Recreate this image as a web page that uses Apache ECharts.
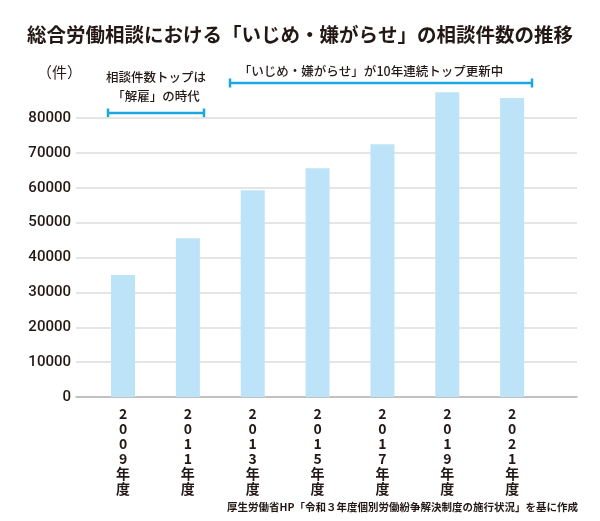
<!DOCTYPE html>
<html>
<head>
<meta charset="utf-8">
<script src="https://cdn.jsdelivr.net/npm/echarts@6/dist/echarts.min.js"></script>
<style>
  html, body { margin: 0; padding: 0; background: #fff; }
  #chart { width: 600px; height: 521px; }
</style>
</head>
<body>
<div id="chart"></div>
<script>
// 年度と相談件数
const years = [2009, 2011, 2013, 2015, 2017, 2019, 2021];
const counts = [35000, 45500, 59300, 65600, 72500, 87400, 85700];
const yTicks = [0, 10000, 20000, 30000, 40000, 50000, 60000, 70000, 80000];

const titleText = '総合労働相談における「いじめ・嫌がらせ」の相談件数の推移';
const sourceText = '厚生労働省HP「令和３年度個別労働紛争解決制度の施行状況」を基に作成';
const noteLeft = ['相談件数トップは', '「解雇」の時代'];
const noteRight = '「いじめ・嫌がらせ」が10年連続トップ更新中';

const ink = '#231815';
const cyan = '#1ba8e0';
const jp = '"Noto Sans CJK JP", "Noto Sans", sans-serif';

function bracket(x1, x2, y) {
    // 横線＋両端の縦線
    return [
        {type: 'line', shape: {x1: x1, y1: y, x2: x2, y2: y}, style: {stroke: cyan, lineWidth: 2.5}},
        {type: 'line', shape: {x1: x1, y1: y - 4.5, x2: x1, y2: y + 4.5}, style: {stroke: cyan, lineWidth: 2.5}},
        {type: 'line', shape: {x1: x2, y1: y - 4.5, x2: x2, y2: y + 4.5}, style: {stroke: cyan, lineWidth: 2.5}}
    ];
}

let chart = echarts.init(document.getElementById('chart'));
let option = {
    animation: false,
    backgroundColor: '#fff',
    title: {
        text: titleText,
        left: 'center',
        top: 20,
        textStyle: {fontFamily: jp, fontSize: 19.5, fontWeight: 'bold', color: ink}
    },
    grid: {left: 76, right: 23, top: 118, bottom: 124},
    xAxis: {
        type: 'value',
        min: 2007.55,
        max: 2023,
        axisLine: {show: true, lineStyle: {color: '#b5b5b5', width: 1.5}},
        axisTick: {show: false},
        splitLine: {show: false},
        axisLabel: {
            customValues: years,
            margin: 9,
            fontFamily: jp,
            fontSize: 14,
            fontWeight: 'bold',
            lineHeight: 15,
            color: ink,
            verticalAlign: 'top',
            formatter: (v) => (String(v) + '年度').split('').join('\n')
        }
    },
    yAxis: {
        type: 'value',
        min: yTicks[0],
        max: yTicks[yTicks.length - 1],
        interval: 10000,
        axisLine: {show: false},
        axisTick: {show: false},
        splitLine: {lineStyle: {color: '#dcdcdc', width: 1.5}},
        axisLabel: {
            margin: 5,
            fontFamily: 'Roboto, "Liberation Sans", Arial, sans-serif',
            fontSize: 15,
            fontWeight: 500,
            color: ink,
            formatter: (v) => String(v)
        }
    },
    series: [{
        type: 'bar',
        data: years.map((y, i) => [y, counts[i]]),
        barWidth: 24,
        clip: false,
        itemStyle: {color: '#bde3f8'}
    }],
    graphic: [
        {type: 'text', left: 37, top: 65, style: {text: '（件）', font: '15px ' + jp, fill: ink}},
        {type: 'text', x: 156, y: 77, style: {text: noteLeft[0], font: '500 12.5px ' + jp, fill: ink, align: 'center', verticalAlign: 'middle'}},
        {type: 'text', x: 156, y: 96, style: {text: noteLeft[1], font: '500 12.5px ' + jp, fill: ink, align: 'center', verticalAlign: 'middle'}},
        {type: 'text', x: 371, y: 71, style: {text: noteRight, font: '500 12.5px ' + jp, fill: ink, align: 'center', verticalAlign: 'middle'}},
        ...bracket(108, 204, 113),
        ...bracket(230, 532, 83),
        {type: 'text', x: 578, y: 507, style: {text: sourceText, font: 'bold 10.5px ' + jp, fill: ink, align: 'right', verticalAlign: 'middle'}}
    ]
};
chart.setOption(option);
</script>
</body>
</html>
